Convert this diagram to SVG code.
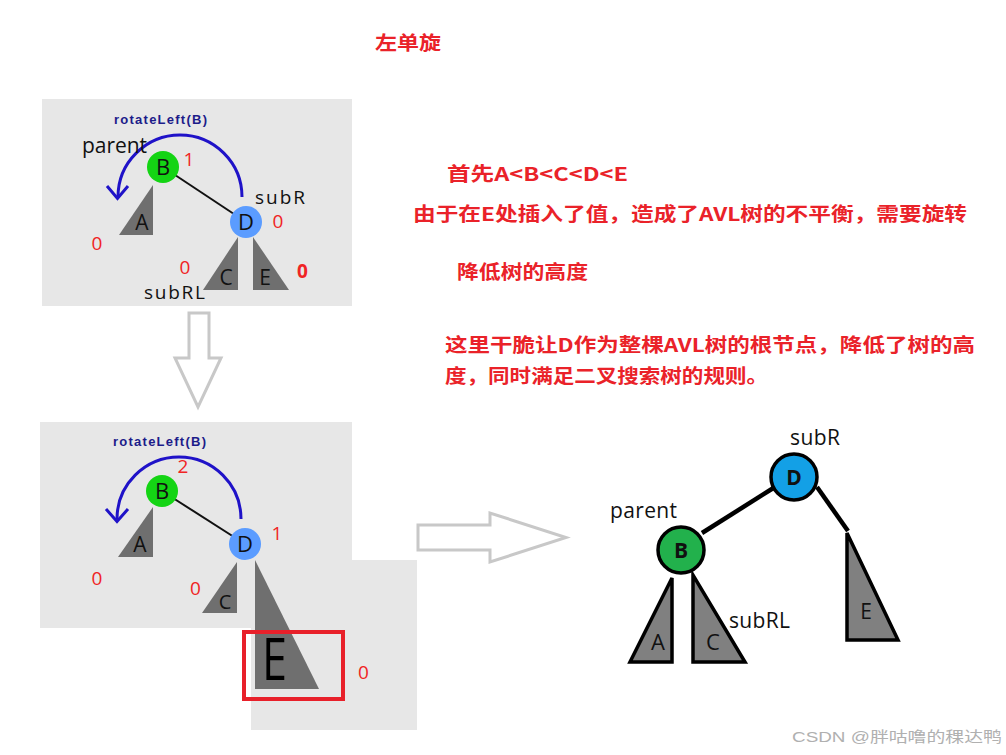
<svg xmlns="http://www.w3.org/2000/svg" width="1006" height="755" viewBox="0 0 1006 755">
<style>
.panel{fill:#e7e7e7}
.tri{fill:#6f6f6f}
.tri2{fill:#808080;stroke:#000;stroke-width:3.5;stroke-linejoin:miter}
.lbl{font-family:"Open Sans","Noto Sans",sans-serif;fill:#111}
.let{font-family:"Open Sans","Noto Sans",sans-serif;fill:#111;text-anchor:middle}
.num{font-family:"Open Sans","Noto Sans",sans-serif;fill:#f02424;text-anchor:middle;font-size:19px}
.rot{font-family:"Liberation Sans",Arial,sans-serif;font-weight:bold;font-size:13px;fill:#1c1c8a}
.arc{fill:none;stroke:#1f12c8;stroke-width:3}
.edge{stroke:#111;stroke-width:2}
.edge2{stroke:#000;stroke-width:4.5}
.bigarrow{fill:#fff;stroke:#c8c8c8;stroke-width:3;stroke-linejoin:miter}
.note{font-family:"Noto Sans CJK SC","Noto Sans",sans-serif;font-weight:bold;fill:#ea2229;font-size:19px}
</style>

<!-- title -->
<text class="note" x="375" y="50" font-size="20" textLength="66" lengthAdjust="spacingAndGlyphs">左单旋</text>

<!-- panel backgrounds -->
<rect class="panel" x="42" y="99" width="310" height="207"/>
<rect class="panel" x="40" y="422" width="312" height="206"/>
<rect class="panel" x="251" y="560" width="166" height="170"/>

<!-- connectors -->
<g id="connectors">
  <line class="edge" x1="163" y1="167" x2="246" y2="222"/>
  <line class="edge" x1="162" y1="491" x2="245" y2="544"/>
  <line class="edge2" x1="775" y1="487" x2="702" y2="533"/>
  <line class="edge2" x1="817" y1="487" x2="848" y2="531"/>
  <path class="arc" d="M242,197 A62,62 0 0 0 118,197"/>
  <polyline class="arc" points="107,186 117.5,198.5 128,186"/>
  <path class="arc" d="M241,519 A62,62 0 0 0 117,519"/>
  <polyline class="arc" points="106,509 117,521.5 128,509"/>
  <polygon class="bigarrow" points="189,313 209,313 209,358 221,358 198,407 175,358 189,358"/>
  <polygon class="bigarrow" points="418,525 490,525 490,513 566,537.5 490,562 490,550 418,550"/>
</g>

<!-- panel 1 -->
<g id="p1-labels">
  <text class="rot" x="114" y="124" textLength="93">rotateLeft(B)</text>
  <text class="lbl" x="82" y="153" font-size="21" textLength="65">parent</text>
  <text class="lbl" x="255" y="204" font-size="19" textLength="50">subR</text>
  <text class="lbl" x="144" y="299" font-size="19" textLength="61">subRL</text>
</g>
<g id="p1-B">
  <circle cx="163" cy="167" r="16" fill="#14d414"/>
  <text class="let" x="163" y="175" font-size="22">B</text>
  <text class="num" x="189" y="166">1</text>
</g>
<g id="p1-D">
  <circle cx="246" cy="222" r="16" fill="#5b9cff"/>
  <text class="let" x="246" y="230" font-size="22">D</text>
  <text class="num" x="278" y="228" font-size="18">0</text>
</g>
<g id="p1-A">
  <polygon class="tri" points="153,185 153,235 119,235"/>
  <text class="let" x="142" y="230" font-size="21">A</text>
  <text class="num" x="97" y="250">0</text>
</g>
<g id="p1-C">
  <polygon class="tri" points="238,237 238,290 203,290"/>
  <text class="let" x="226" y="285" font-size="21">C</text>
  <text class="num" x="185" y="274" font-size="18">0</text>
</g>
<g id="p1-E">
  <polygon class="tri" points="253,237 253,290 289,290"/>
  <text class="let" x="265" y="285" font-size="21">E</text>
  <text class="num" x="302.5" y="278" font-weight="bold">0</text>
</g>

<!-- panel 2 -->
<g id="p2-labels">
  <text class="rot" x="113" y="446" textLength="93">rotateLeft(B)</text>
</g>
<g id="p2-B">
  <circle cx="162" cy="491" r="16" fill="#14d414"/>
  <text class="let" x="162" y="499" font-size="22">B</text>
  <text class="num" x="183" y="473">2</text>
</g>
<g id="p2-D">
  <circle cx="245" cy="544" r="16" fill="#5b9cff"/>
  <text class="let" x="245" y="552" font-size="22">D</text>
  <text class="num" x="277" y="540">1</text>
</g>
<g id="p2-A">
  <polygon class="tri" points="153,507 153,557 118,557"/>
  <text class="let" x="140" y="552" font-size="21">A</text>
  <text class="num" x="97" y="585">0</text>
</g>
<g id="p2-C">
  <polygon class="tri" points="237,562 237,613 202,613"/>
  <text class="let" x="225" y="609" font-size="20">C</text>
  <text class="num" x="195.5" y="595">0</text>
</g>
<g id="p2-E">
  <polygon class="tri" points="255,560 255,689 319,689"/>
  <text x="262" y="680" font-family="Open Sans, Noto Sans, sans-serif" font-size="58" fill="#000" textLength="25" lengthAdjust="spacingAndGlyphs">E</text>
  <rect x="244" y="632" width="99" height="67" fill="none" stroke="#e8202a" stroke-width="4"/>
  <text class="num" x="363.5" y="679">0</text>
</g>

<!-- notes -->
<g id="notes">
  <text class="note" x="447" y="181" textLength="181" lengthAdjust="spacingAndGlyphs">首先A&lt;B&lt;C&lt;D&lt;E</text>
  <text class="note" x="413" y="221" textLength="554" lengthAdjust="spacingAndGlyphs">由于在E处插入了值，造成了AVL树的不平衡，需要旋转</text>
  <text class="note" x="457" y="279" textLength="131" lengthAdjust="spacingAndGlyphs">降低树的高度</text>
  <text class="note" x="445" y="352" textLength="530" lengthAdjust="spacingAndGlyphs">这里干脆让D作为整棵AVL树的根节点，降低了树的高</text>
  <text class="note" x="445" y="383" textLength="323" lengthAdjust="spacingAndGlyphs">度，同时满足二叉搜索树的规则。</text>
</g>

<!-- result tree -->
<g id="r-D">
  <circle cx="794" cy="477" r="23" fill="#13a0e6" stroke="#000" stroke-width="3.5"/>
  <text class="let" x="794" y="485" font-size="21" font-weight="bold">D</text>
  <text class="lbl" x="790" y="445" font-size="21" textLength="50">subR</text>
</g>
<g id="r-B">
  <circle cx="681" cy="550" r="23" fill="#22b14c" stroke="#000" stroke-width="3.5"/>
  <text class="let" x="681" y="558" font-size="21" font-weight="bold">B</text>
  <text class="lbl" x="610" y="518" font-size="21" textLength="67">parent</text>
</g>
<g id="r-A">
  <polygon class="tri2" points="672,578 672,662 630,662"/>
  <text class="let" x="658" y="650" font-size="22" fill="#222">A</text>
</g>
<g id="r-C">
  <polygon class="tri2" points="693,575 693,662 745,662"/>
  <text class="let" x="713" y="650" font-size="22" fill="#222">C</text>
  <text class="lbl" x="729" y="628" font-size="21" textLength="61">subRL</text>
</g>
<g id="r-E">
  <polygon class="tri2" points="847,533 847,640 898,640"/>
  <text class="let" x="866" y="619" font-size="21" fill="#222">E</text>
</g>

<text x="792" y="742" font-family="Liberation Sans, Noto Sans CJK SC, sans-serif" font-size="15" fill="#b0b0b0" textLength="210" lengthAdjust="spacingAndGlyphs">CSDN @胖咕噜的稞达鸭</text>
</svg>
